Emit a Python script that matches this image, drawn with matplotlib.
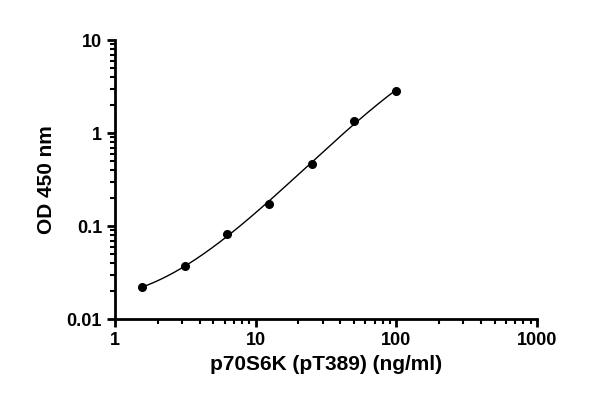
import numpy as np
import matplotlib
matplotlib.use("Agg")
import matplotlib.pyplot as plt
from matplotlib.ticker import LogLocator, FixedLocator, NullFormatter

conc = [1.5625, 3.125, 6.25, 12.5, 25, 50, 100]
od = [0.022, 0.037, 0.083, 0.175, 0.47, 1.35, 2.85]
xticks = [1, 10, 100, 1000]
xticklabels = ["1", "10", "100", "1000"]
yticks = [0.01, 0.1, 1, 10]
yticklabels = ["0.01", "0.1", "1", "10"]

plt.rcParams["font.family"] = "Liberation Sans"
plt.rcParams["font.weight"] = "bold"

fig = plt.figure(figsize=(6, 4.05), dpi=100)
ax = fig.add_axes([0.192, 0.212, 0.703, 0.689])

lx, ly = np.log10(conc), np.log10(od)
coef = np.polyfit(lx, ly, 3)
xs = np.linspace(lx[0], lx[-1], 200)
ax.plot(10**xs, 10**np.polyval(coef, xs), color="black", lw=1)
ax.plot(conc, od, "o", color="black", ms=5.5)

ax.set_xscale("log"); ax.set_yscale("log")
ax.set_xlim(1, 1000); ax.set_ylim(0.01, 10)
ax.xaxis.set_major_locator(FixedLocator(xticks))
ax.set_xticklabels(xticklabels)
ax.yaxis.set_major_locator(FixedLocator(yticks))
ax.set_yticklabels(yticklabels)
for a in (ax.xaxis, ax.yaxis):
    a.set_minor_locator(LogLocator(base=10, subs=np.arange(2, 10)))
    a.set_minor_formatter(NullFormatter())
for s in ("top", "right"):
    ax.spines[s].set_visible(False)
for s in ("left", "bottom"):
    ax.spines[s].set_linewidth(2)
ax.tick_params(which="major", length=6, width=2, labelsize=13, direction="out")
ax.tick_params(which="minor", length=3.5, width=1.5, direction="out")
ax.set_xlabel("p70S6K (pT389) (ng/ml)", fontsize=15, fontweight="bold", labelpad=4)
ax.set_ylabel("OD 450 nm", fontsize=15, fontweight="bold", labelpad=8)
fig.savefig("out.png", dpi=100)
